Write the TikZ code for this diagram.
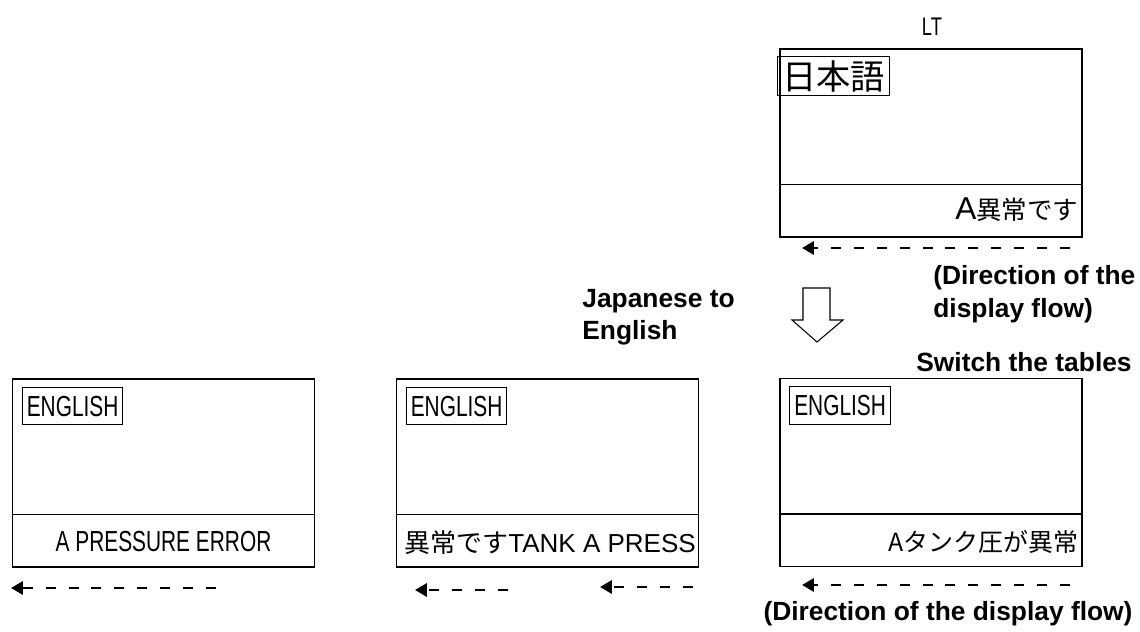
\documentclass[tikz,border=0pt]{standalone}
\usepackage{fontspec}
\setmainfont{Liberation Sans}
\newfontfamily\lcdfont[FakeStretch=0.72]{Liberation Sans}
\newfontfamily\jpfont{Noto Sans CJK JP}
\usetikzlibrary{arrows.meta}
\tikzset{
  screen/.style={draw, line width=0.75pt, minimum width=6.04cm, minimum height=3.76cm, inner sep=0pt},
  tag/.style={draw, line width=0.6pt, inner xsep=2.5pt, inner ysep=0pt, minimum height=0.75cm, font=\lcdfont\fontsize{16.5}{17}\selectfont},
  msg/.style={inner sep=0pt, font=\fontsize{14.5}{15}\selectfont},
  note/.style={font=\bfseries\fontsize{15}{18.5}\selectfont, align=left, inner sep=0pt},
  flow/.style={line width=1.6pt, dash pattern=on 5.67pt off 7.37pt, -{Triangle[length=6.8pt,width=7.5pt]}}
}
\begin{document}
\begin{tikzpicture}[x=0.02cm, y=-0.02cm]
    \useasboundingbox (0,0) rectangle (1140,632);
    % Japanese screen (top)
    \node[font=\lcdfont\fontsize{14.5}{15}\selectfont] (ltLabel) at (932,27) {LT};
    \node[screen] (lt) at (931,143) {};
    \draw[line width=0.75pt] ([yshift=1.06cm]lt.south west) -- ([yshift=1.06cm]lt.south east);
    \node[tag, anchor=north west, minimum height=0.78cm, font=\jpfont\fontsize{19.5}{20}\selectfont] (ltTag) at ([xshift=-0.04cm,yshift=-0.16cm]lt.north west) {日本語};
    \node[msg, anchor=east] (ltMsg) at ([xshift=-0.08cm,yshift=0.55cm]lt.south east) {{\fontsize{18}{18}\selectfont A}{\jpfont 異常です}};
    \coordinate (ltFlowR) at (1070,248);
    \coordinate (ltFlowL) at (802,248);
    \draw[flow] (ltFlowR) -- (ltFlowL);
    \node[note, anchor=west] (ltNote) at (933,294) {(Direction of the\\display flow)};
    % switching arrow
    \draw[line width=0.6pt] (803,288) -- (830,288) -- (830,320) -- (843,320) -- (817,342) -- (792,320) -- (803,320) -- cycle;
    \node[note] (switchNote) at (1024,362) {Switch the tables};
    \node[note, anchor=west] (convNote) at (582,317) {Japanese to\\English};
    % English screens (bottom row)
    \node[screen] (right) at (931,472.5) {};
    \node[screen] (mid) at (547.5,473) {};
    \node[screen] (left) at (163.5,473) {};
    \foreach \s in {right,mid,left} {
        \draw[line width=0.75pt] ([yshift=1.06cm]\s.south west) -- ([yshift=1.06cm]\s.south east);
        \node[tag, anchor=north west] (\s Tag) at ([xshift=0.2cm,yshift=-0.17cm]\s.north west) {ENGLISH};
    }
    \node[msg, anchor=east, font=\jpfont\fontsize{14.2}{15}\selectfont] (rightMsg) at ([xshift=-0.08cm,yshift=0.5cm]right.south east) {Aタンク圧が異常};
    \node[msg, anchor=east, font=\fontsize{14.8}{15}\selectfont] (midMsg) at ([xshift=-0.06cm,yshift=0.5cm]mid.south east) {{\jpfont 異常です}TANK A PRESS};
    \node[msg, font=\lcdfont\fontsize{16.5}{17}\selectfont] (leftMsg) at ([yshift=0.53cm]left.south) {A PRESSURE ERROR};
    % flow directions
    \coordinate (rightFlowR) at (1070,585);
    \coordinate (rightFlowL) at (802,585);
    \draw[flow] (rightFlowR) -- (rightFlowL);
    \coordinate (midFlowAR) at (508,590);
    \coordinate (midFlowAL) at (415,590);
    \draw[flow] (midFlowAR) -- (midFlowAL);
    \coordinate (midFlowBR) at (693,587);
    \coordinate (midFlowBL) at (600,587);
    \draw[flow] (midFlowBR) -- (midFlowBL);
    \coordinate (leftFlowR) at (216,588);
    \coordinate (leftFlowL) at (11,588);
    \draw[flow] (leftFlowR) -- (leftFlowL);
    \node[note] (rightNote) at (948,614) {(Direction of the display flow)};
\end{tikzpicture}
\end{document}
